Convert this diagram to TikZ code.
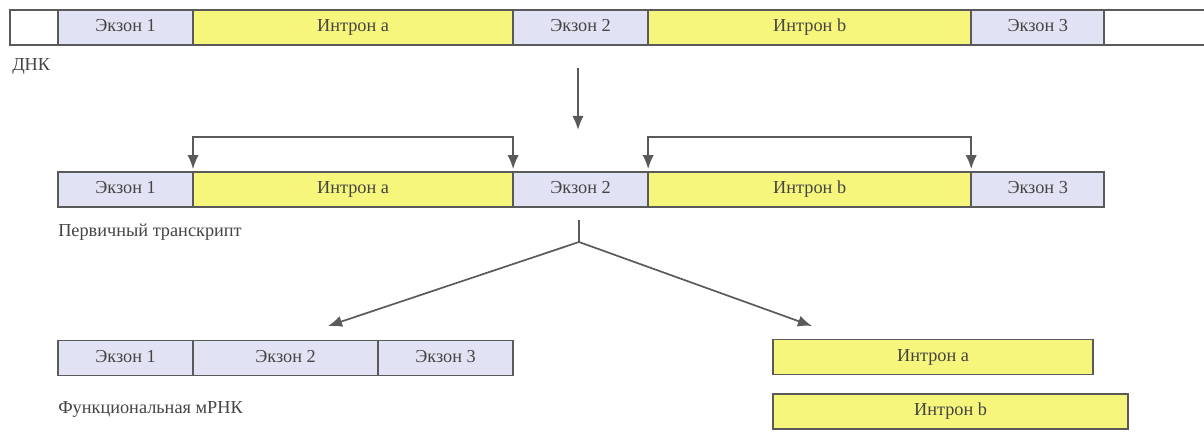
\documentclass[tikz,border=0pt]{standalone}
\usepackage{fontspec}
\setmainfont{Liberation Serif}
\usetikzlibrary{positioning,arrows.meta}
\definecolor{linegray}{RGB}{90,90,90}
\definecolor{txtgray}{RGB}{68,68,68}
\definecolor{exfill}{RGB}{226,226,245}
\definecolor{infill}{RGB}{246,246,124}
\tikzstyle{seg} = [draw=linegray, line width=1.2pt, minimum height=0.875cm, inner sep=0pt, outer sep=0pt, anchor=west, text=txtgray, text height=1.6ex, text depth=0.3ex, font=\fontsize{13}{15}\selectfont]
\tikzstyle{exon} = [seg, fill=exfill]
\tikzstyle{intron} = [seg, fill=infill]
\tikzstyle{blank} = [seg, fill=white]
\tikzstyle{arr} = [draw=linegray, line width=1.2pt, -{Latex[length=10pt,width=8pt]}]
\tikzstyle{lbl} = [anchor=west, inner sep=0pt, text=txtgray, font=\fontsize{13}{15}\selectfont]

\begin{document}
\begin{tikzpicture}[x=0.025cm, y=-0.025cm]
\useasboundingbox[fill=white] (0,0) rectangle (1204,435);

% DNA
\node[blank, minimum width=1.2cm] (d_0) at (10,27.5) {};
\node[exon, minimum width=3.375cm, right=0pt of d_0] (d_1) {Экзон 1};
\node[intron, minimum width=8cm, right=0pt of d_1] (d_2) {Интрон a};
\node[exon, minimum width=3.375cm, right=0pt of d_2] (d_3) {Экзон 2};
\node[intron, minimum width=8.075cm, right=0pt of d_3] (d_4) {Интрон b};
\node[exon, minimum width=3.325cm, right=0pt of d_4] (d_5) {Экзон 3};
\node[blank, minimum width=2.75cm, right=0pt of d_5] (d_6) {};
\node[lbl] (dna) at (12,66) {ДНК};

% primary transcript
\node[exon, minimum width=3.375cm] (t_1) at (58,189.5) {Экзон 1};
\node[intron, minimum width=8cm, right=0pt of t_1] (t_2) {Интрон a};
\node[exon, minimum width=3.375cm, right=0pt of t_2] (t_3) {Экзон 2};
\node[intron, minimum width=8.075cm, right=0pt of t_3] (t_4) {Интрон b};
\node[exon, minimum width=3.325cm, right=0pt of t_4] (t_5) {Экзон 3};
\node[lbl] (pre) at (58,232) {Первичный транскрипт};

\coordinate (dna_out) at (578,68);
\coordinate (dna_in) at (578,130);
\draw[arr] (dna_out) -- (dna_in);

\draw[arr, {Latex[length=10pt,width=8pt]}-{Latex[length=10pt,width=8pt]}, shorten <=2pt, shorten >=2pt]
  (t_2.north west) -- ++(0,-35) -| (t_2.north east);
\draw[arr, {Latex[length=10pt,width=8pt]}-{Latex[length=10pt,width=8pt]}, shorten <=2pt, shorten >=2pt]
  (t_4.north west) -- ++(0,-35) -| (t_4.north east);

% splicing
\coordinate (sp_top) at (579,220);
\coordinate (sp) at (579,242);
\coordinate (tip_l) at (328,326);
\coordinate (tip_r) at (812,326);
\draw[draw=linegray, line width=1.2pt] (sp_top) -- (sp);
\draw[arr] (sp) -- (tip_l);
\draw[arr] (sp) -- (tip_r);

% mRNA
\node[exon, minimum width=3.375cm] (m_1) at (58,358) {Экзон 1};
\node[exon, minimum width=4.625cm, right=0pt of m_1] (m_2) {Экзон 2};
\node[exon, minimum width=3.375cm, right=0pt of m_2] (m_3) {Экзон 3};
\node[lbl] (mrna) at (58,409) {Функциональная мРНК};

% introns
\node[intron, minimum width=8cm] (i_a) at (773,357) {Интрон a};
\node[intron, minimum width=8.875cm] (i_b) at (773,411.5) {Интрон b};

\end{tikzpicture}
\end{document}
